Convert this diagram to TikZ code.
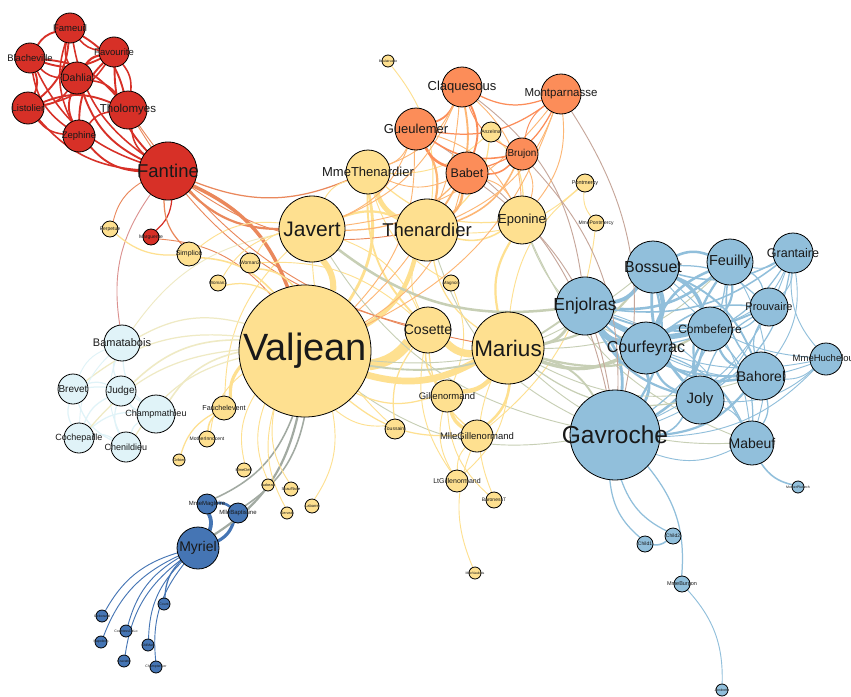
\documentclass[tikz,border=0pt]{standalone}
\usepackage{fontspec}
\setmainfont{Liberation Sans}
\definecolor{cR}{HTML}{D73027}
\definecolor{cO}{HTML}{FC8D59}
\definecolor{cY}{HTML}{FEE090}
\definecolor{cL}{HTML}{E0F3F8}
\definecolor{cS}{HTML}{91BFDB}
\definecolor{cD}{HTML}{4575B4}
\pgfdeclarelayer{edges}
\pgfdeclarelayer{labels}
\pgfsetlayers{edges,main,labels}
\tikzset{auto, minimum size=0pt}
\tikzstyle{pers} = [draw=black, circle, line width=0.8pt, inner sep=0pt, outer sep=0pt]
\tikzstyle{lbl} = [inner sep=0pt, text=black!90]
\tikzstyle{link} = [draw=lkc]
\newcommand{\person}[6]{%
  \expandafter\gdef\csname col#1\endcsname{#6}%
  \node [pers, fill=#6, minimum size=#4*2pt] (#1) at (#2,#3) {};
  \begin{pgfonlayer}{labels}
    \node [lbl, font=\fontsize{#5}{#5}\selectfont] (#1-lbl) at (#1) {#1};
  \end{pgfonlayer}}
\newcommand{\lnk}[3]{%
  \edef\lkA{\csname col#1\endcsname}\edef\lkB{\csname col#2\endcsname}%
  \colorlet{lkc}{\lkA!50!\lkB}%
  \draw [link, line width=0.6pt+0.32pt*#3] (#1) to [bend left=22] (#2);}

\begin{document}
\begin{tikzpicture}[x=1pt, y=-1pt]
    \useasboundingbox (0,0) rectangle (851,696);

    \person{Fameuil}{70}{28}{15}{9.5}{cR}
    \person{Blacheville}{30}{58}{15}{9.5}{cR}
    \person{Favourite}{114}{52}{15}{9.5}{cR}
    \person{Dahlia}{77}{78}{16}{10.5}{cR}
    \person{Listolier}{28}{108}{16}{9.5}{cR}
    \person{Tholomyes}{128}{110}{19}{11.5}{cR}
    \person{Zephine}{79}{136}{16}{9.5}{cR}
    \person{Fantine}{168}{171}{29}{18.5}{cR}
    \person{Marguerite}{151}{237}{8}{5}{cR}

    \person{Claquesous}{462}{87}{20}{13}{cO}
    \person{Montparnasse}{561}{94}{20}{11.5}{cO}
    \person{Gueulemer}{416}{129}{21}{13}{cO}
    \person{Babet}{467}{173}{21}{12.5}{cO}
    \person{Brujon}{522}{154}{16}{10}{cO}

    \person{Boulatruelle}{388}{61}{6}{3.5}{cY}
    \person{Anzelma}{491}{132}{10}{5}{cY}
    \person{MmeThenardier}{368}{172}{22}{13}{cY}
    \person{Javert}{312}{229}{33}{21}{cY}
    \person{Thenardier}{427}{230}{31}{18.5}{cY}
    \person{Eponine}{522}{220}{24}{13}{cY}
    \person{Pontmercy}{585}{183}{9}{5.5}{cY}
    \person{MmePontmercy}{596}{223}{8}{5}{cY}
    \person{Perpetue}{110}{229}{8}{5}{cY}
    \person{Simplice}{189}{254}{12}{7}{cY}
    \person{Woman2}{250}{263}{10}{5}{cY}
    \person{Woman1}{218}{283}{8}{4.5}{cY}
    \person{Magnon}{451}{283}{8}{4.5}{cY}
    \person{Valjean}{305}{351}{66}{38}{cY}
    \person{Cosette}{428}{330}{23}{14}{cY}
    \person{Marius}{508}{348}{36}{22.5}{cY}
    \person{Gillenormand}{447}{396}{16}{9.5}{cY}
    \person{Toussaint}{395}{429}{10}{5}{cY}
    \person{MlleGillenormand}{477}{436}{16}{9.5}{cY}
    \person{LtGillenormand}{457}{481}{11}{7}{cY}
    \person{BaronessT}{494}{500}{8}{5}{cY}
    \person{MlleVaubois}{475}{573}{6}{3.5}{cY}
    \person{Fauchelevent}{224}{408}{12}{7.2}{cY}
    \person{MotherInnocent}{207}{439}{8}{5}{cY}
    \person{Gribier}{179}{460}{6}{3.8}{cY}
    \person{MmeDeR}{244}{470}{7}{4}{cY}
    \person{Isabeau}{268}{485}{6}{3.8}{cY}
    \person{Scaufflaire}{291}{489}{7}{4}{cY}
    \person{Gervais}{287}{513}{6}{3.8}{cY}
    \person{Labarre}{312}{506}{7}{4}{cY}

    \person{Bamatabois}{122}{343}{18}{11}{cL}
    \person{Brevet}{73}{389}{15}{10}{cL}
    \person{Judge}{121}{391}{15}{10}{cL}
    \person{Champmathieu}{156}{414}{19}{9}{cL}
    \person{Cochepaille}{79}{438}{15}{9}{cL}
    \person{Chenildieu}{126}{447}{15}{9}{cL}

    \person{MmeMagloire}{207}{504}{10}{6}{cD}
    \person{MlleBaptistine}{238}{513}{10}{6}{cD}
    \person{Myriel}{198}{548}{21}{14}{cD}
    \person{Count}{164}{604}{6}{3.5}{cD}
    \person{Geborand}{102}{616}{6}{3.5}{cD}
    \person{CountessDeLo}{126}{631}{6}{3.5}{cD}
    \person{Napoleon}{101}{642}{6}{3.5}{cD}
    \person{OldMan}{148}{645}{6}{3.5}{cD}
    \person{Cravatte}{124}{661}{6}{3.5}{cD}
    \person{Champtercier}{156}{667}{6}{3.5}{cD}

    \person{Enjolras}{585}{306}{29}{17.5}{cS}
    \person{Bossuet}{653}{267}{26}{16}{cS}
    \person{Feuilly}{730}{262}{23}{14.5}{cS}
    \person{Grantaire}{793}{253}{20}{12.5}{cS}
    \person{Prouvaire}{769}{307}{19}{11}{cS}
    \person{Combeferre}{710}{329}{22}{12}{cS}
    \person{Courfeyrac}{646}{348}{26}{16}{cS}
    \person{MmeHucheloup}{826}{359}{16}{9.5}{cS}
    \person{Bahorel}{761}{376}{24}{14}{cS}
    \person{Joly}{700}{400}{24}{15}{cS}
    \person{Gavroche}{615}{435}{45}{24.5}{cS}
    \person{Mabeuf}{752}{443}{22}{14}{cS}
    \person{MotherPlutarch}{798}{487}{6}{3.5}{cS}
    \person{Child1}{645}{544}{8}{5}{cS}
    \person{Child2}{673}{536}{8}{5}{cS}
    \person{MmeBurgon}{682}{584}{8}{5.5}{cS}
    \person{Jondrette}{722}{690}{6}{3.5}{cS}

    \begin{pgfonlayer}{edges}
    \fill [white] (0,0) rectangle (851,696);
    \lnk{Napoleon}{Myriel}{1}
    \lnk{MlleBaptistine}{Myriel}{8}
    \lnk{MmeMagloire}{Myriel}{10}
    \lnk{MmeMagloire}{MlleBaptistine}{6}
    \lnk{CountessDeLo}{Myriel}{1}
    \lnk{Geborand}{Myriel}{1}
    \lnk{Champtercier}{Myriel}{1}
    \lnk{Cravatte}{Myriel}{1}
    \lnk{Count}{Myriel}{2}
    \lnk{OldMan}{Myriel}{1}
    \lnk{Valjean}{Labarre}{1}
    \lnk{Valjean}{MmeMagloire}{3}
    \lnk{Valjean}{MlleBaptistine}{3}
    \lnk{Valjean}{Myriel}{5}
    \lnk{Marguerite}{Valjean}{1}
    \lnk{MmeDeR}{Valjean}{1}
    \lnk{Isabeau}{Valjean}{1}
    \lnk{Gervais}{Valjean}{1}
    \lnk{Listolier}{Tholomyes}{4}
    \lnk{Fameuil}{Tholomyes}{4}
    \lnk{Fameuil}{Listolier}{4}
    \lnk{Blacheville}{Tholomyes}{4}
    \lnk{Blacheville}{Listolier}{4}
    \lnk{Blacheville}{Fameuil}{4}
    \lnk{Favourite}{Tholomyes}{3}
    \lnk{Favourite}{Listolier}{3}
    \lnk{Favourite}{Fameuil}{3}
    \lnk{Favourite}{Blacheville}{4}
    \lnk{Dahlia}{Tholomyes}{3}
    \lnk{Dahlia}{Listolier}{3}
    \lnk{Dahlia}{Fameuil}{3}
    \lnk{Dahlia}{Blacheville}{3}
    \lnk{Dahlia}{Favourite}{5}
    \lnk{Zephine}{Tholomyes}{3}
    \lnk{Zephine}{Listolier}{3}
    \lnk{Zephine}{Fameuil}{3}
    \lnk{Zephine}{Blacheville}{3}
    \lnk{Zephine}{Favourite}{4}
    \lnk{Zephine}{Dahlia}{4}
    \lnk{Fantine}{Tholomyes}{3}
    \lnk{Fantine}{Listolier}{3}
    \lnk{Fantine}{Fameuil}{3}
    \lnk{Fantine}{Blacheville}{3}
    \lnk{Fantine}{Favourite}{4}
    \lnk{Fantine}{Dahlia}{4}
    \lnk{Fantine}{Zephine}{4}
    \lnk{Fantine}{Marguerite}{2}
    \lnk{Fantine}{Valjean}{9}
    \lnk{MmeThenardier}{Fantine}{2}
    \lnk{MmeThenardier}{Valjean}{7}
    \lnk{Thenardier}{MmeThenardier}{13}
    \lnk{Thenardier}{Fantine}{1}
    \lnk{Thenardier}{Valjean}{12}
    \lnk{Cosette}{MmeThenardier}{4}
    \lnk{Cosette}{Valjean}{31}
    \lnk{Cosette}{Tholomyes}{1}
    \lnk{Cosette}{Thenardier}{1}
    \lnk{Javert}{Valjean}{17}
    \lnk{Javert}{Fantine}{5}
    \lnk{Javert}{Thenardier}{5}
    \lnk{Javert}{MmeThenardier}{1}
    \lnk{Javert}{Cosette}{1}
    \lnk{Fauchelevent}{Valjean}{8}
    \lnk{Fauchelevent}{Javert}{1}
    \lnk{Bamatabois}{Fantine}{1}
    \lnk{Bamatabois}{Javert}{1}
    \lnk{Bamatabois}{Valjean}{2}
    \lnk{Perpetue}{Fantine}{1}
    \lnk{Simplice}{Perpetue}{2}
    \lnk{Simplice}{Valjean}{3}
    \lnk{Simplice}{Fantine}{2}
    \lnk{Simplice}{Javert}{1}
    \lnk{Scaufflaire}{Valjean}{1}
    \lnk{Woman1}{Valjean}{2}
    \lnk{Woman1}{Javert}{1}
    \lnk{Judge}{Valjean}{3}
    \lnk{Judge}{Bamatabois}{2}
    \lnk{Champmathieu}{Valjean}{3}
    \lnk{Champmathieu}{Judge}{3}
    \lnk{Champmathieu}{Bamatabois}{2}
    \lnk{Brevet}{Judge}{2}
    \lnk{Brevet}{Champmathieu}{2}
    \lnk{Brevet}{Valjean}{2}
    \lnk{Brevet}{Bamatabois}{1}
    \lnk{Chenildieu}{Judge}{2}
    \lnk{Chenildieu}{Champmathieu}{2}
    \lnk{Chenildieu}{Brevet}{2}
    \lnk{Chenildieu}{Valjean}{2}
    \lnk{Chenildieu}{Bamatabois}{1}
    \lnk{Cochepaille}{Judge}{2}
    \lnk{Cochepaille}{Champmathieu}{2}
    \lnk{Cochepaille}{Brevet}{2}
    \lnk{Cochepaille}{Chenildieu}{2}
    \lnk{Cochepaille}{Valjean}{2}
    \lnk{Cochepaille}{Bamatabois}{1}
    \lnk{Pontmercy}{Thenardier}{1}
    \lnk{Boulatruelle}{Thenardier}{1}
    \lnk{Eponine}{MmeThenardier}{2}
    \lnk{Eponine}{Thenardier}{3}
    \lnk{Anzelma}{Eponine}{2}
    \lnk{Anzelma}{Thenardier}{2}
    \lnk{Anzelma}{MmeThenardier}{1}
    \lnk{Woman2}{Valjean}{3}
    \lnk{Woman2}{Cosette}{1}
    \lnk{Woman2}{Javert}{1}
    \lnk{MotherInnocent}{Fauchelevent}{3}
    \lnk{MotherInnocent}{Valjean}{1}
    \lnk{Gribier}{Fauchelevent}{2}
    \lnk{MmeBurgon}{Jondrette}{1}
    \lnk{Gavroche}{MmeBurgon}{2}
    \lnk{Gavroche}{Thenardier}{1}
    \lnk{Gavroche}{Javert}{1}
    \lnk{Gavroche}{Valjean}{1}
    \lnk{Gillenormand}{Cosette}{3}
    \lnk{Gillenormand}{Valjean}{2}
    \lnk{Magnon}{Gillenormand}{1}
    \lnk{Magnon}{MmeThenardier}{1}
    \lnk{MlleGillenormand}{Gillenormand}{9}
    \lnk{MlleGillenormand}{Cosette}{2}
    \lnk{MlleGillenormand}{Valjean}{2}
    \lnk{MmePontmercy}{MlleGillenormand}{1}
    \lnk{MmePontmercy}{Pontmercy}{1}
    \lnk{MlleVaubois}{MlleGillenormand}{1}
    \lnk{LtGillenormand}{MlleGillenormand}{1}
    \lnk{LtGillenormand}{Gillenormand}{1}
    \lnk{LtGillenormand}{Cosette}{1}
    \lnk{Marius}{MlleGillenormand}{6}
    \lnk{Marius}{Gillenormand}{12}
    \lnk{Marius}{Pontmercy}{1}
    \lnk{Marius}{LtGillenormand}{1}
    \lnk{Marius}{Cosette}{21}
    \lnk{Marius}{Valjean}{19}
    \lnk{Marius}{Tholomyes}{1}
    \lnk{Marius}{Thenardier}{2}
    \lnk{Marius}{Eponine}{5}
    \lnk{Marius}{Gavroche}{4}
    \lnk{BaronessT}{Gillenormand}{1}
    \lnk{BaronessT}{Marius}{1}
    \lnk{Mabeuf}{Marius}{1}
    \lnk{Mabeuf}{Eponine}{1}
    \lnk{Mabeuf}{Gavroche}{1}
    \lnk{Enjolras}{Marius}{7}
    \lnk{Enjolras}{Gavroche}{7}
    \lnk{Enjolras}{Javert}{6}
    \lnk{Enjolras}{Mabeuf}{1}
    \lnk{Enjolras}{Valjean}{4}
    \lnk{Combeferre}{Enjolras}{15}
    \lnk{Combeferre}{Marius}{5}
    \lnk{Combeferre}{Gavroche}{6}
    \lnk{Combeferre}{Mabeuf}{2}
    \lnk{Prouvaire}{Gavroche}{1}
    \lnk{Prouvaire}{Enjolras}{4}
    \lnk{Prouvaire}{Combeferre}{2}
    \lnk{Feuilly}{Gavroche}{2}
    \lnk{Feuilly}{Enjolras}{6}
    \lnk{Feuilly}{Prouvaire}{2}
    \lnk{Feuilly}{Combeferre}{5}
    \lnk{Feuilly}{Mabeuf}{1}
    \lnk{Feuilly}{Marius}{1}
    \lnk{Courfeyrac}{Marius}{9}
    \lnk{Courfeyrac}{Enjolras}{17}
    \lnk{Courfeyrac}{Combeferre}{13}
    \lnk{Courfeyrac}{Gavroche}{7}
    \lnk{Courfeyrac}{Mabeuf}{2}
    \lnk{Courfeyrac}{Eponine}{1}
    \lnk{Courfeyrac}{Feuilly}{6}
    \lnk{Courfeyrac}{Prouvaire}{3}
    \lnk{Bahorel}{Combeferre}{5}
    \lnk{Bahorel}{Gavroche}{5}
    \lnk{Bahorel}{Courfeyrac}{6}
    \lnk{Bahorel}{Mabeuf}{2}
    \lnk{Bahorel}{Enjolras}{4}
    \lnk{Bahorel}{Feuilly}{3}
    \lnk{Bahorel}{Prouvaire}{2}
    \lnk{Bahorel}{Marius}{1}
    \lnk{Bossuet}{Marius}{5}
    \lnk{Bossuet}{Courfeyrac}{12}
    \lnk{Bossuet}{Gavroche}{5}
    \lnk{Bossuet}{Bahorel}{4}
    \lnk{Bossuet}{Enjolras}{10}
    \lnk{Bossuet}{Feuilly}{6}
    \lnk{Bossuet}{Prouvaire}{2}
    \lnk{Bossuet}{Combeferre}{9}
    \lnk{Bossuet}{Mabeuf}{1}
    \lnk{Bossuet}{Valjean}{1}
    \lnk{Joly}{Bahorel}{5}
    \lnk{Joly}{Bossuet}{7}
    \lnk{Joly}{Gavroche}{3}
    \lnk{Joly}{Courfeyrac}{5}
    \lnk{Joly}{Enjolras}{5}
    \lnk{Joly}{Feuilly}{5}
    \lnk{Joly}{Prouvaire}{2}
    \lnk{Joly}{Combeferre}{5}
    \lnk{Joly}{Mabeuf}{1}
    \lnk{Joly}{Marius}{2}
    \lnk{Grantaire}{Bossuet}{3}
    \lnk{Grantaire}{Enjolras}{3}
    \lnk{Grantaire}{Combeferre}{1}
    \lnk{Grantaire}{Courfeyrac}{2}
    \lnk{Grantaire}{Joly}{2}
    \lnk{Grantaire}{Gavroche}{1}
    \lnk{Grantaire}{Bahorel}{1}
    \lnk{Grantaire}{Feuilly}{1}
    \lnk{Grantaire}{Prouvaire}{1}
    \lnk{MotherPlutarch}{Mabeuf}{3}
    \lnk{Gueulemer}{Thenardier}{5}
    \lnk{Gueulemer}{Valjean}{1}
    \lnk{Gueulemer}{MmeThenardier}{1}
    \lnk{Gueulemer}{Javert}{1}
    \lnk{Gueulemer}{Gavroche}{1}
    \lnk{Gueulemer}{Eponine}{1}
    \lnk{Babet}{Thenardier}{6}
    \lnk{Babet}{Gueulemer}{6}
    \lnk{Babet}{Valjean}{1}
    \lnk{Babet}{MmeThenardier}{1}
    \lnk{Babet}{Javert}{2}
    \lnk{Babet}{Gavroche}{1}
    \lnk{Babet}{Eponine}{1}
    \lnk{Claquesous}{Thenardier}{4}
    \lnk{Claquesous}{Babet}{4}
    \lnk{Claquesous}{Gueulemer}{4}
    \lnk{Claquesous}{Valjean}{1}
    \lnk{Claquesous}{MmeThenardier}{1}
    \lnk{Claquesous}{Javert}{1}
    \lnk{Claquesous}{Eponine}{1}
    \lnk{Claquesous}{Enjolras}{1}
    \lnk{Montparnasse}{Javert}{1}
    \lnk{Montparnasse}{Babet}{2}
    \lnk{Montparnasse}{Gueulemer}{2}
    \lnk{Montparnasse}{Claquesous}{2}
    \lnk{Montparnasse}{Valjean}{1}
    \lnk{Montparnasse}{Gavroche}{1}
    \lnk{Montparnasse}{Eponine}{1}
    \lnk{Montparnasse}{Thenardier}{1}
    \lnk{Toussaint}{Cosette}{2}
    \lnk{Toussaint}{Javert}{1}
    \lnk{Toussaint}{Valjean}{1}
    \lnk{Child1}{Gavroche}{2}
    \lnk{Child2}{Gavroche}{2}
    \lnk{Child2}{Child1}{3}
    \lnk{Brujon}{Babet}{3}
    \lnk{Brujon}{Gueulemer}{3}
    \lnk{Brujon}{Thenardier}{3}
    \lnk{Brujon}{Gavroche}{1}
    \lnk{Brujon}{Eponine}{1}
    \lnk{Brujon}{Claquesous}{1}
    \lnk{Brujon}{Montparnasse}{1}
    \lnk{MmeHucheloup}{Bossuet}{1}
    \lnk{MmeHucheloup}{Joly}{1}
    \lnk{MmeHucheloup}{Grantaire}{1}
    \lnk{MmeHucheloup}{Bahorel}{1}
    \lnk{MmeHucheloup}{Courfeyrac}{1}
    \lnk{MmeHucheloup}{Gavroche}{1}
    \lnk{MmeHucheloup}{Enjolras}{1}
    \end{pgfonlayer}
\end{tikzpicture}
\end{document}
